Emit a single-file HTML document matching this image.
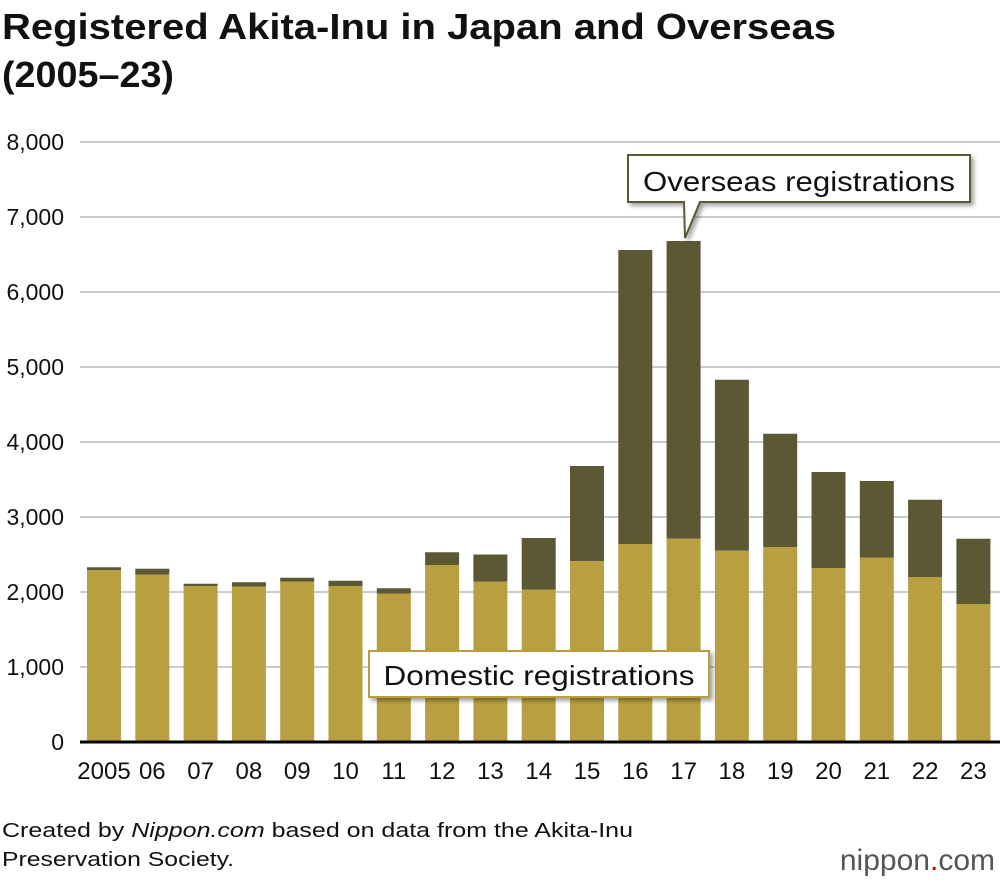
<!DOCTYPE html>
<html><head><meta charset="utf-8"><style>
body{margin:0;background:#fff;font-family:"Liberation Sans",sans-serif;}
</style></head><body>
<svg width="1000" height="886" xmlns="http://www.w3.org/2000/svg" font-family="Liberation Sans, sans-serif">
<text x="2" y="39" font-size="36" font-weight="bold" fill="#111" textLength="834" lengthAdjust="spacingAndGlyphs">Registered Akita-Inu in Japan and Overseas</text>
<text x="2" y="87" font-size="36" font-weight="bold" fill="#111" textLength="172" lengthAdjust="spacingAndGlyphs">(2005–23)</text>
<g id="grid"></g>
<g id="bars"></g>
<line x1="80" y1="742" x2="1000" y2="742" stroke="#000" stroke-width="3"/>
<g id="xlabels"></g>
<g>
<path d="M628,155 L970,155 L970,202 L700,202 L685,238 L684,202 L628,202 Z" fill="#fff" stroke="#5c5834" stroke-width="2" style="filter:drop-shadow(3px 3px 2px rgba(0,0,0,0.35))"/>
<text x="799" y="191" font-size="28" text-anchor="middle" fill="#111" textLength="312" lengthAdjust="spacingAndGlyphs">Overseas registrations</text>
</g>
<g>
<rect x="369" y="651" width="340" height="46" fill="#fff" stroke="#b8a040" stroke-width="2" style="filter:drop-shadow(3px 3px 2px rgba(0,0,0,0.35))"/>
<text x="539" y="685" font-size="28" text-anchor="middle" fill="#111" textLength="311" lengthAdjust="spacingAndGlyphs">Domestic registrations</text>
</g>
<text x="2" y="837" font-size="20" fill="#111" textLength="631" lengthAdjust="spacingAndGlyphs">Created by <tspan font-style="italic">Nippon.com</tspan> based on data from the Akita-Inu</text>
<text x="2" y="866" font-size="20" fill="#111" textLength="232" lengthAdjust="spacingAndGlyphs">Preservation Society.</text>
<text x="995" y="870" font-size="30" text-anchor="end" fill="#555">nippon<tspan fill="#c00">.</tspan>com</text>
</svg>
<script>
const years=["2005","06","07","08","09","10","11","12","13","14","15","16","17","18","19","20","21","22","23"];
const domestic=[2290,2230,2080,2070,2140,2080,1980,2360,2140,2030,2410,2640,2710,2550,2600,2320,2460,2200,1840];
const total=[2330,2310,2110,2130,2190,2150,2050,2530,2500,2720,3680,6560,6680,4830,4110,3600,3480,3230,2710];
const yTicks=[0,1000,2000,3000,4000,5000,6000,7000,8000];
const NS="http://www.w3.org/2000/svg";
const y=v=>742-v*0.075;
const xc=i=>104+i*48.3;
const bw=34;
function mk(t,a){const e=document.createElementNS(NS,t);for(const k in a)e.setAttribute(k,a[k]);return e;}
const grid=document.getElementById('grid');
yTicks.forEach(t=>{
 if(t>0){const l=mk('line',{x1:80,x2:1000,y1:y(t),y2:y(t),stroke:'#ccc','stroke-width':2});
 
 
 grid.appendChild(l);}
 const tx=mk('text',{x:64,y:y(t)+8,'font-size':23,'text-anchor':'end',fill:'#111'});
 
 
 tx.textContent=t.toLocaleString('en-US');grid.appendChild(tx);
});
const bars=document.getElementById('bars'),xl=document.getElementById('xlabels');
years.forEach((yr,i)=>{
 const x=xc(i)-bw/2;
 const o=mk('rect',{x:x,y:y(total[i]),width:bw,height:y(domestic[i])-y(total[i]),fill:'#5c5834'});
 
 
 bars.appendChild(o);
 const d=mk('rect',{x:x,y:y(domestic[i]),width:bw,height:742-y(domestic[i]),fill:'#b8a040'});
 
 
 bars.appendChild(d);
 const t=mk('text',{x:xc(i),y:779,'font-size':24,'text-anchor':'middle',fill:'#111'});
 
 
 t.textContent=yr;xl.appendChild(t);
});
</script>
</body></html>
